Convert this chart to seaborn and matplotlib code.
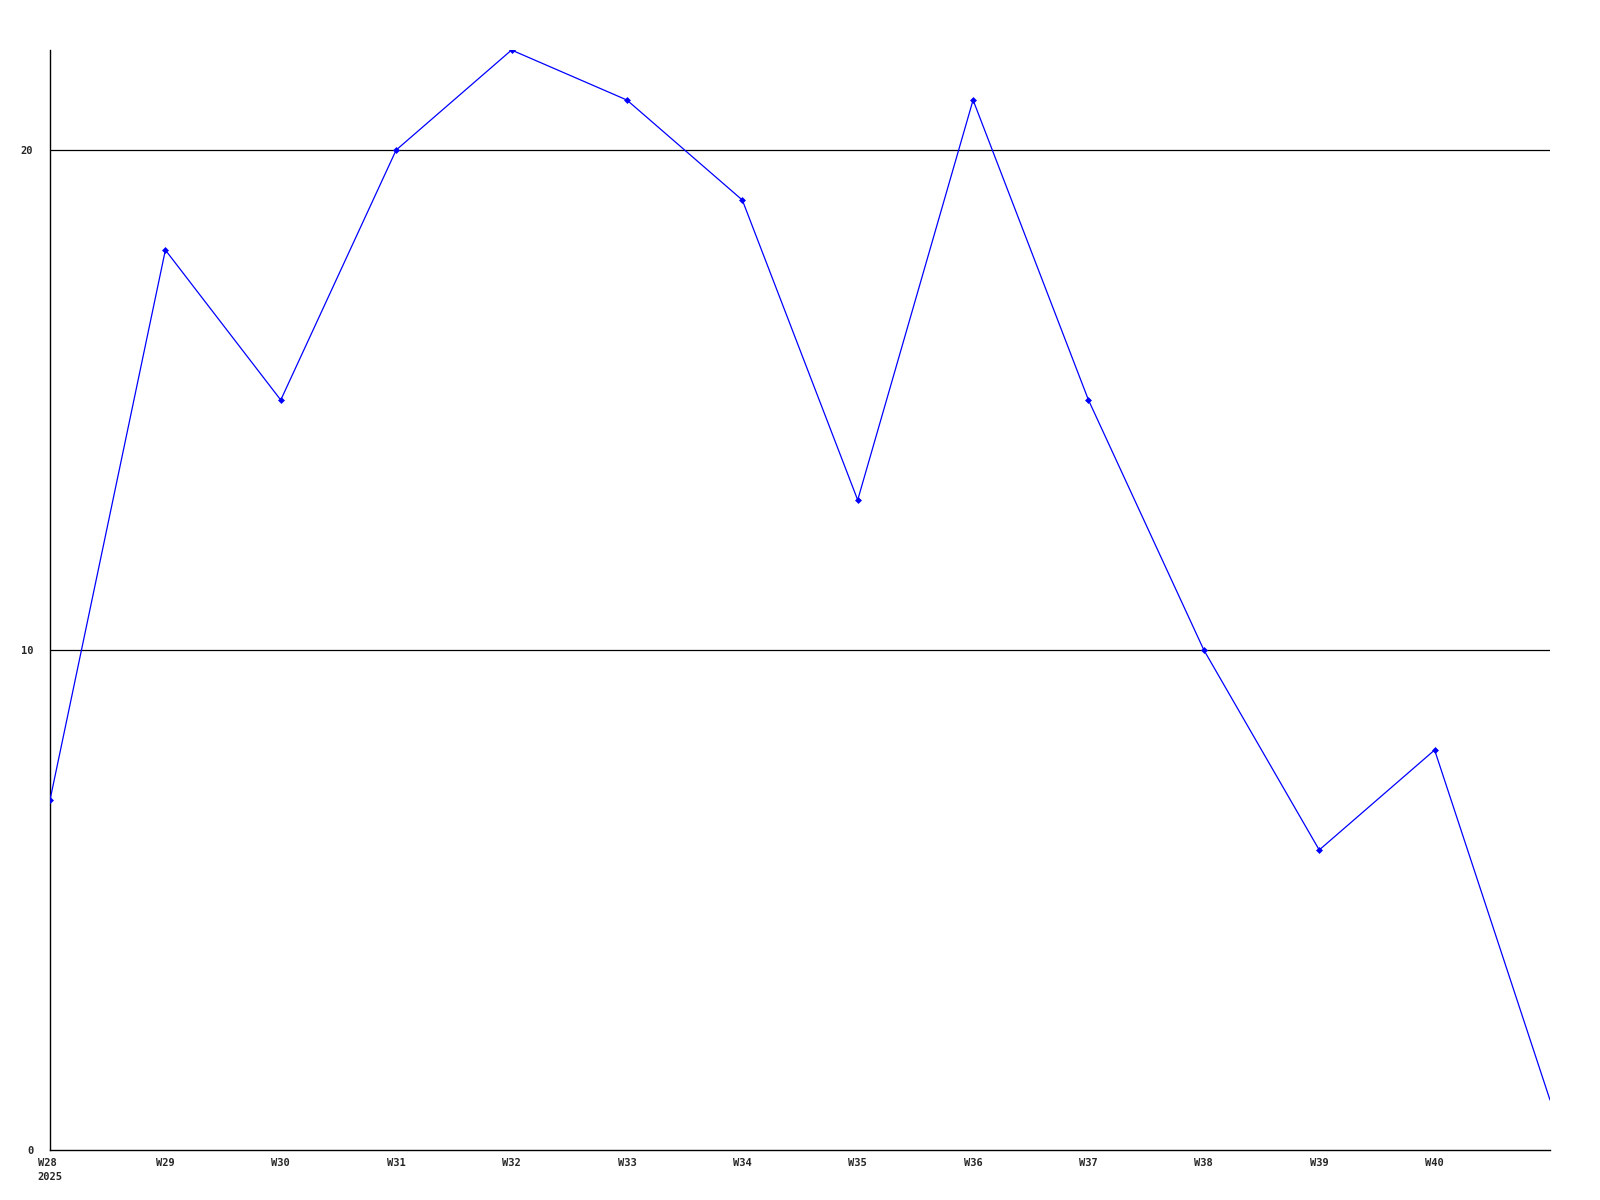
import matplotlib
matplotlib.use("Agg")
import matplotlib.pyplot as plt
import seaborn as sns
import pandas as pd

weeks = ["W28", "W29", "W30", "W31", "W32", "W33", "W34", "W35", "W36", "W37", "W38", "W39", "W40", "W41"]
values = [7, 18, 15, 20, 22, 21, 19, 13, 21, 15, 10, 6, 8, 1]
tick_labels = ["W28\n2025", "W29", "W30", "W31", "W32", "W33", "W34", "W35", "W36", "W37", "W38", "W39", "W40"]
y_ticks = [0, 10, 20]

sns.set_style("white")
plt.rcParams['font.family'] = ['DejaVu Sans Mono']

df = pd.DataFrame({"idx": range(len(weeks)), "week": weeks, "value": values})

fig = plt.figure(figsize=(16, 12), dpi=100)
ax = fig.add_axes([0.03125, 0.0417, 0.9375, 0.9166])

for yv in [10, 20]:
    ax.axhline(yv, color="black", lw=0.9, zorder=1)

sns.lineplot(data=df, x="idx", y="value", ax=ax, color="#0000ff", lw=0.9, zorder=3)
sns.scatterplot(data=df.iloc[:-1], x="idx", y="value", ax=ax, color="#0000ff",
                marker="D", s=9, edgecolor="#0000ff", linewidth=0.5, zorder=4)

ax.set_xlim(0, len(weeks) - 1)
ax.set_ylim(0, 22)
ax.set_xticks(range(len(tick_labels)))
ax.set_xticklabels(tick_labels, fontsize=7.5, fontweight="bold", ha="center",
                   multialignment="left", linespacing=1.5)
ax.set_yticks(y_ticks)
ax.set_yticklabels([str(v) for v in y_ticks], fontsize=7.5, fontweight="bold")
ax.tick_params(axis="x", length=0, pad=6)
ax.tick_params(axis="y", length=0, pad=12)
ax.set_xlabel("")
ax.set_ylabel("")
for s in ["top", "right"]:
    ax.spines[s].set_visible(False)
for s in ["left", "bottom"]:
    ax.spines[s].set_color("black")
    ax.spines[s].set_linewidth(1.0)

fig.savefig("out.png", dpi=100, facecolor="white")
